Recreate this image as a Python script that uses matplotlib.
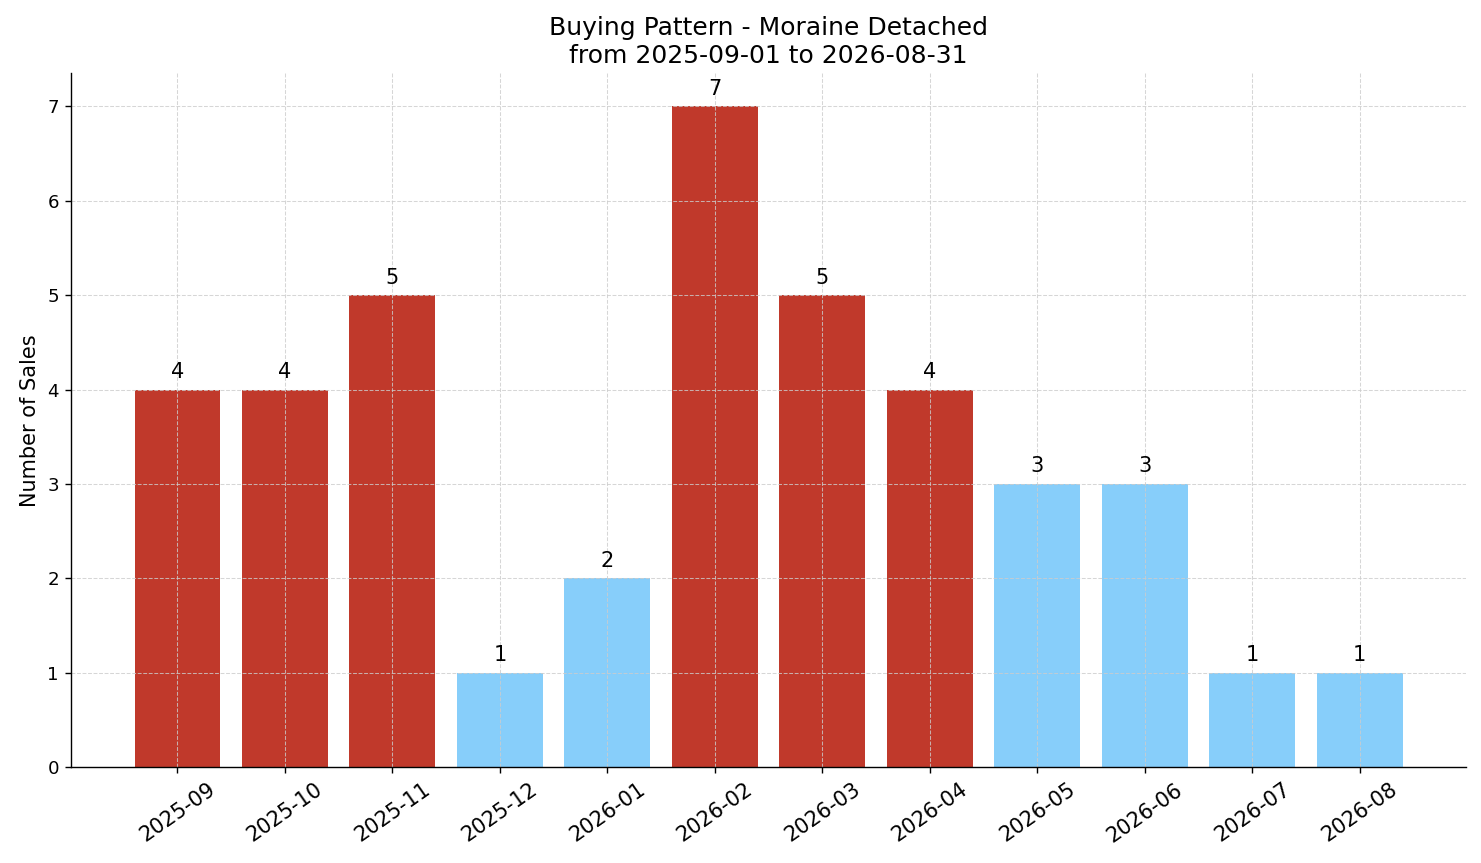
import matplotlib
matplotlib.use("Agg")
import matplotlib.pyplot as plt

# Monthly sales counts
months = ['2025-09', '2025-10', '2025-11', '2025-12', '2026-01', '2026-02',
          '2026-03', '2026-04', '2026-05', '2026-06', '2026-07', '2026-08']
sales = [4, 4, 5, 1, 2, 7, 5, 4, 3, 3, 1, 1]
# Busy months are red, the rest light blue
high = [True, True, True, False, False, True, True, True, False, False, False, False]

colors = ['#c0392b' if h else '#87cefa' for h in high]

fig, ax = plt.subplots(figsize=(11.848, 6.904), dpi=125)
bars = ax.bar(range(len(months)), sales, color=colors, width=0.8)

for b, v in zip(bars, sales):
    ax.text(b.get_x() + b.get_width() / 2, v + 0.08, str(v),
            ha='center', va='bottom', fontsize=12)

ax.set_xticks(range(len(months)))
ax.set_xticklabels(months, rotation=35, fontsize=12)
ax.tick_params(axis='y', labelsize=10.5)
ax.set_ylim(0, 7.35)
ax.set_ylabel('Number of Sales', fontsize=12)
ax.set_title('Buying Pattern - Moraine Detached\nfrom 2025-09-01 to 2026-08-31', fontsize=14.4)

ax.grid(True, linestyle='--', color='#cccccc', alpha=0.8, linewidth=0.6)
ax.spines['top'].set_visible(False)
ax.spines['right'].set_visible(False)

plt.subplots_adjust(left=0.048, right=0.990, top=0.915, bottom=0.111)
plt.savefig('out.png', dpi=125)
